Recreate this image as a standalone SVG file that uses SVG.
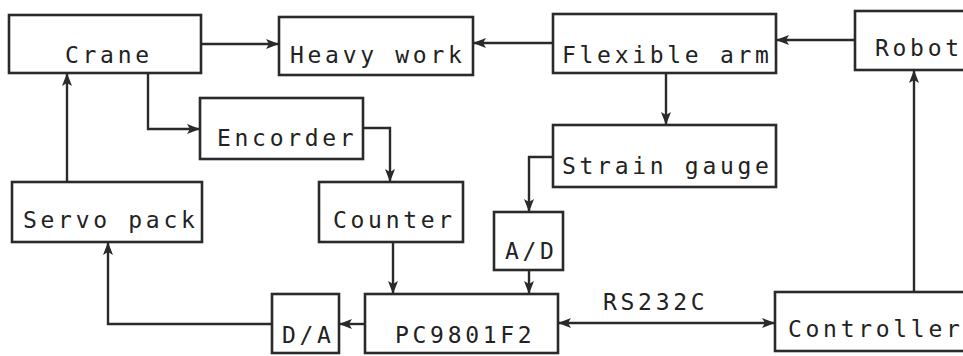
<svg xmlns="http://www.w3.org/2000/svg" width="963" height="356" viewBox="0 0 963 356">
<style>
.box{fill:#fff;stroke:#2a2a2a;stroke-width:2.6}
.lbl{font-family:"DejaVu Sans Mono","Liberation Mono",monospace;font-size:23px;letter-spacing:3.7px;fill:#222}
.con{fill:none;stroke:#2a2a2a;stroke-width:2.4}
</style>
<defs>
<marker id="ah" viewBox="0 0 13 10" refX="13" refY="5" markerWidth="13" markerHeight="10" markerUnits="userSpaceOnUse" orient="auto-start-reverse">
<path d="M0,0 L13,5 L0,10 L3,5 Z" fill="#2a2a2a"/>
</marker>
</defs>
<rect width="963" height="356" fill="#fff"/>
<g id="connectors">
<line class="con" x1="201" y1="44" x2="279" y2="44" marker-end="url(#ah)"/>
<line class="con" x1="553" y1="43" x2="473" y2="43" marker-end="url(#ah)"/>
<line class="con" x1="855" y1="40" x2="776" y2="40" marker-end="url(#ah)"/>
<line class="con" x1="666" y1="73" x2="666" y2="125" marker-end="url(#ah)"/>
<path class="con" d="M148,73 V129 H200" marker-end="url(#ah)"/>
<path class="con" d="M363,128 H390 V182" marker-end="url(#ah)"/>
<line class="con" x1="67" y1="182" x2="67" y2="73" marker-end="url(#ah)"/>
<path class="con" d="M553,157 H529 V212" marker-end="url(#ah)"/>
<line class="con" x1="529" y1="270" x2="529" y2="294" marker-end="url(#ah)"/>
<line class="con" x1="393" y1="242" x2="393" y2="294" marker-end="url(#ah)"/>
<line class="con" x1="365" y1="324" x2="339" y2="324" marker-end="url(#ah)"/>
<path class="con" d="M272,324 H108 V242" marker-end="url(#ah)"/>
<line class="con" x1="558" y1="323" x2="775" y2="323" marker-start="url(#ah)" marker-end="url(#ah)"/>
<line class="con" x1="914" y1="292" x2="914" y2="70" marker-end="url(#ah)"/>
<text class="lbl" x="603" y="310">RS232C</text>
</g>
<g id="crane"><rect class="box" x="9" y="15" width="192" height="58"/><text class="lbl" x="65" y="63">Crane</text></g>
<g id="heavy-work"><rect class="box" x="279" y="17" width="194" height="58"/><text class="lbl" x="290" y="63">Heavy work</text></g>
<g id="flexible-arm"><rect class="box" x="553" y="14" width="223" height="59"/><text class="lbl" x="562" y="63">Flexible arm</text></g>
<g id="robot"><rect class="box" x="855" y="11" width="120" height="59"/><text class="lbl" x="875" y="56">Robot</text></g>
<g id="encorder"><rect class="box" x="200" y="98" width="163" height="61"/><text class="lbl" x="217" y="146">Encorder</text></g>
<g id="strain-gauge"><rect class="box" x="553" y="125" width="223" height="62"/><text class="lbl" x="562" y="174">Strain gauge</text></g>
<g id="servo-pack"><rect class="box" x="12" y="182" width="190" height="60"/><text class="lbl" x="23" y="228">Servo pack</text></g>
<g id="counter"><rect class="box" x="319" y="182" width="144" height="60"/><text class="lbl" x="333" y="228">Counter</text></g>
<g id="ad"><rect class="box" x="494" y="212" width="69" height="58"/><text class="lbl" x="505" y="259">A/D</text></g>
<g id="da"><rect class="box" x="272" y="294" width="67" height="59"/><text class="lbl" x="282" y="343">D/A</text></g>
<g id="pc9801f2"><rect class="box" x="365" y="294" width="193" height="59"/><text class="lbl" x="395" y="343">PC9801F2</text></g>
<g id="controller"><rect class="box" x="775" y="292" width="200" height="59"/><text class="lbl" x="788" y="337">Controller</text></g>
</svg>
